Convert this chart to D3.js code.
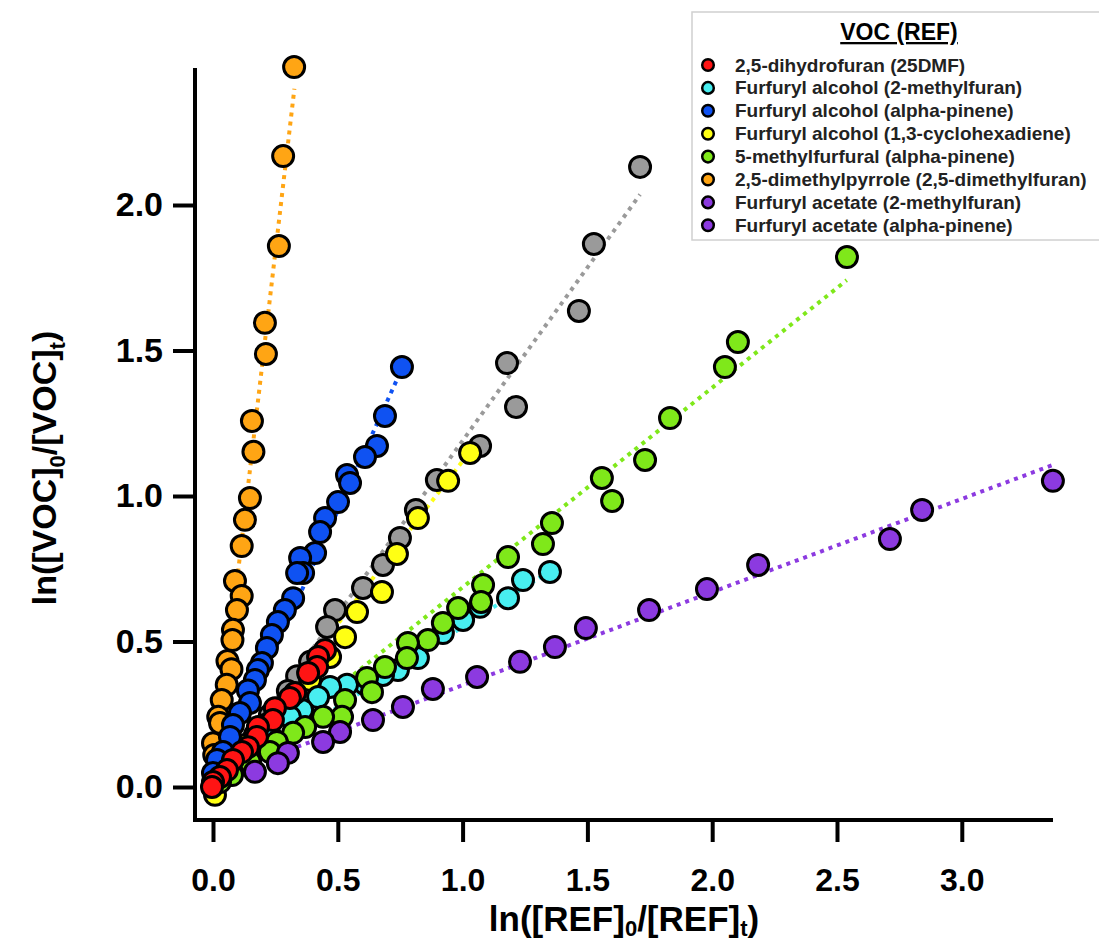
<!DOCTYPE html>
<html><head><meta charset="utf-8">
<script src="https://cdn.jsdelivr.net/npm/d3@7/dist/d3.min.js"></script>
<style>body{margin:0;background:#fff}svg{display:block}</style>
</head><body>
<svg id="c" width="1099" height="942"></svg>
<script>
// ---------- DATA ----------
const legendNames = [
  "2,5-dihydrofuran (25DMF)",
  "Furfuryl alcohol (2-methylfuran)",
  "Furfuryl alcohol (alpha-pinene)",
  "Furfuryl alcohol (1,3-cyclohexadiene)",
  "5-methylfurfural (alpha-pinene)",
  "2,5-dimethylpyrrole (2,5-dimethylfuran)",
  "Furfuryl acetate (2-methylfuran)",
  "Furfuryl acetate (alpha-pinene)"
];
const legendColors = ["#ff1414","#48eef0","#0f52f2","#ffff14","#7fe81a","#ffa514","#8c3ae0","#8c3ae0"];

const xTicks = [0, 0.5, 1.0, 1.5, 2.0, 2.5, 3.0];
const yTicks = [0, 0.5, 1.0, 1.5, 2.0];

const orangePts = [[0.325,2.474],[0.281,2.168],[0.264,1.859],[0.208,1.595],[0.212,1.488],[0.156,1.258],[0.162,1.152],[0.148,0.993],[0.128,0.918],[0.115,0.828],[0.088,0.708],[0.115,0.656],[0.096,0.608],[0.080,0.540],[0.078,0.505],[0.058,0.433],[0.074,0.405],[0.055,0.351],[0.035,0.299],[0.021,0.241],[0.028,0.220],[0.0,0.150],[0.005,0.110]];
const grayPts = [[1.711,2.131],[1.526,1.866],[1.466,1.636],[1.178,1.457],[1.214,1.306],[1.070,1.172],[0.897,1.055],[0.813,0.952],[0.749,0.856],[0.681,0.763],[0.601,0.684],[0.489,0.608],[0.457,0.550],[0.389,0.430],[0.337,0.381],[0.300,0.330],[0.228,0.247],[0.168,0.179],[0.108,0.110],[0.052,0.052]];
const yellowPts = [[1.030,1.148],[0.942,1.052],[0.821,0.924],[0.737,0.801],[0.677,0.670],[0.577,0.601],[0.529,0.515],[0.469,0.447],[0.389,0.368],[0.308,0.299],[0.208,0.213],[0.128,0.144],[0.068,0.076],[0.008,-0.027]];
const bluePts = [[0.757,1.443],[0.689,1.275],[0.657,1.172],[0.609,1.134],[0.537,1.072],[0.549,1.045],[0.501,0.979],[0.449,0.924],[0.429,0.876],[0.409,0.804],[0.349,0.787],[0.361,0.735],[0.337,0.735],[0.321,0.649],[0.288,0.608],[0.260,0.567],[0.236,0.522],[0.216,0.478],[0.196,0.426],[0.180,0.402],[0.168,0.368],[0.140,0.332],[0.148,0.289],[0.108,0.254],[0.080,0.213],[0.068,0.172],[0.040,0.120],[0.016,0.093],[0.0,0.048]];
const cyanPts = [[1.350,0.739],[1.242,0.711],[1.182,0.649],[1.070,0.619],[1.002,0.574],[0.921,0.529],[0.821,0.443],[0.741,0.402],[0.681,0.385],[0.609,0.354],[0.537,0.351],[0.469,0.344],[0.421,0.309],[0.357,0.265],[0.308,0.241],[0.228,0.179],[0.168,0.120],[0.088,0.065],[0.028,0.024]];
const greenPts = [[2.540,1.821],[2.103,1.529],[2.051,1.443],[1.831,1.268],[1.731,1.124],[1.558,1.062],[1.599,0.983],[1.358,0.907],[1.322,0.835],[1.182,0.790],[1.082,0.694],[1.074,0.636],[0.982,0.615],[0.921,0.564],[0.861,0.505],[0.781,0.495],[0.777,0.443],[0.689,0.412],[0.617,0.375],[0.637,0.326],[0.529,0.299],[0.517,0.241],[0.441,0.241],[0.369,0.206],[0.321,0.186],[0.256,0.155],[0.228,0.120],[0.148,0.086],[0.076,0.041],[0.028,0.017]];
const purplePts = [[3.365,1.052],[2.841,0.952],[2.712,0.852],[2.184,0.763],[1.979,0.680],[1.747,0.608],[1.494,0.546],[1.370,0.481],[1.230,0.430],[1.058,0.378],[0.881,0.337],[0.761,0.275],[0.641,0.230],[0.509,0.189],[0.441,0.155],[0.300,0.117],[0.260,0.082],[0.168,0.052]];
const redPts = [[0.449,0.471],[0.421,0.447],[0.417,0.412],[0.381,0.392],[0.329,0.323],[0.308,0.306],[0.248,0.271],[0.240,0.230],[0.180,0.206],[0.176,0.172],[0.140,0.137],[0.116,0.120],[0.080,0.093],[0.056,0.058],[0.028,0.034],[0.0,0.017],[-0.004,0.0]];

// draw order (bottom to top)
const seriesKeys   = ["orange","gray","yellow","blue","cyan","green","purple","red"];
const seriesColors = ["#ffa514","#9a9a9a","#ffff14","#0f52f2","#48eef0","#7fe81a","#8c3ae0","#ff1414"];
const seriesData   = [orangePts, grayPts, yellowPts, bluePts, cyanPts, greenPts, purplePts, redPts];

// dotted fit lines
const fitSlope     = [7.36, 1.19, 1.12, 1.90, 0.55, 0.686, 0.32, 1.05];
const fitIntercept = [0, 0, 0, 0, 0, 0, 0.03, 0];
const fitXEnd      = [0.326, 1.711, 1.03, 0.741, 1.35, 2.539, 3.367, 0.45];

// ---------- DRAW ----------
const svg = d3.select("#c");
const x = d3.scaleLinear().domain([-0.0721, 3.3654]).range([195, 1053]);
const y = d3.scaleLinear().domain([-0.1134, 2.4708]).range([820, 68]);

// fit lines
seriesKeys.forEach((k, i) => {
  const x0 = 0, x1 = fitXEnd[i];
  svg.append("line")
    .attr("x1", x(x0)).attr("y1", y(fitIntercept[i] + fitSlope[i]*x0))
    .attr("x2", x(x1)).attr("y2", y(fitIntercept[i] + fitSlope[i]*x1))
    .attr("stroke", seriesColors[i]).attr("stroke-width", 4)
    .attr("stroke-dasharray", "4,5");
});

// points
seriesKeys.forEach((k, i) => {
  svg.append("g").selectAll("circle").data(seriesData[i]).join("circle")
    .attr("cx", d => x(d[0])).attr("cy", d => y(d[1])).attr("r", 10.5)
    .attr("fill", seriesColors[i]).attr("stroke", "#000").attr("stroke-width", 3);
});

// axes
const yAxis = d3.axisLeft(y).tickValues(yTicks).tickFormat(d3.format(".1f")).tickSize(22).tickSizeOuter(0).tickPadding(10);
const gy = svg.append("g").attr("transform", "translate(195,0)").call(yAxis);
const xAxis = d3.axisBottom(x).tickValues(xTicks).tickFormat(d3.format(".1f")).tickSize(22).tickSizeOuter(0).tickPadding(26);
const gx = svg.append("g").attr("transform", "translate(0,820)").call(xAxis);
[gx, gy].forEach(g => {
  g.select(".domain").attr("stroke", "#000").attr("stroke-width", 4);
  g.selectAll(".tick line").attr("stroke", "#000").attr("stroke-width", 4);
  g.selectAll(".tick text").attr("fill", "#000")
    .style("font-family", "'Liberation Sans', Arial, sans-serif")
    .style("font-weight", "bold").style("font-size", "32px");
});
gy.selectAll(".tick text").style("font-size", "34px");
gy.select(".domain").attr("d", "M0,822V68");
gx.select(".domain").attr("d", "M193,0H1053");

// axis titles
const xt = svg.append("text").attr("x", 624).attr("y", 931).attr("text-anchor", "middle")
  .style("font-family", "'Liberation Sans', Arial, sans-serif").style("font-weight", "bold").style("font-size", "35px");
xt.append("tspan").text("ln([REF]");
xt.append("tspan").attr("dy", 5).style("font-size", "22px").text("0");
xt.append("tspan").attr("dy", -5).text("/[REF]");
xt.append("tspan").attr("dy", 5).style("font-size", "22px").text("t");
xt.append("tspan").attr("dy", -5).text(")");

const yt = svg.append("text").attr("transform", "translate(56,468) rotate(-90)").attr("text-anchor", "middle")
  .style("font-family", "'Liberation Sans', Arial, sans-serif").style("font-weight", "bold").style("font-size", "34px");
yt.append("tspan").text("ln([VOC]");
yt.append("tspan").attr("dy", 9).style("font-size", "22px").text("0");
yt.append("tspan").attr("dy", -9).text("/[VOC]");
yt.append("tspan").attr("dy", 9).style("font-size", "22px").text("t");
yt.append("tspan").attr("dy", -9).text(")");

// legend
const lg = svg.append("g");
lg.append("rect").attr("x", 692).attr("y", 12).attr("width", 420).attr("height", 228)
  .attr("fill", "#fff").attr("stroke", "#d0d0d0").attr("stroke-width", 1.5);
lg.append("text").attr("x", 899).attr("y", 40).attr("text-anchor", "middle")
  .style("font-family", "'Liberation Sans', Arial, sans-serif").style("font-weight", "bold").style("font-size", "23px")
  .style("text-decoration", "underline").attr("fill", "#000").text("VOC (REF)");
legendNames.forEach((n, i) => {
  const cy = 65 + i*22.9;
  lg.append("circle").attr("cx", 708).attr("cy", cy).attr("r", 5.8)
    .attr("fill", legendColors[i]).attr("stroke", "#000").attr("stroke-width", 2.5);
  lg.append("text").attr("x", 735).attr("y", cy + 6.5)
    .style("font-family", "'Liberation Sans', Arial, sans-serif").style("font-weight", "bold").style("font-size", "19px")
    .attr("fill", "#222").text(n);
});
</script>
</body></html>
